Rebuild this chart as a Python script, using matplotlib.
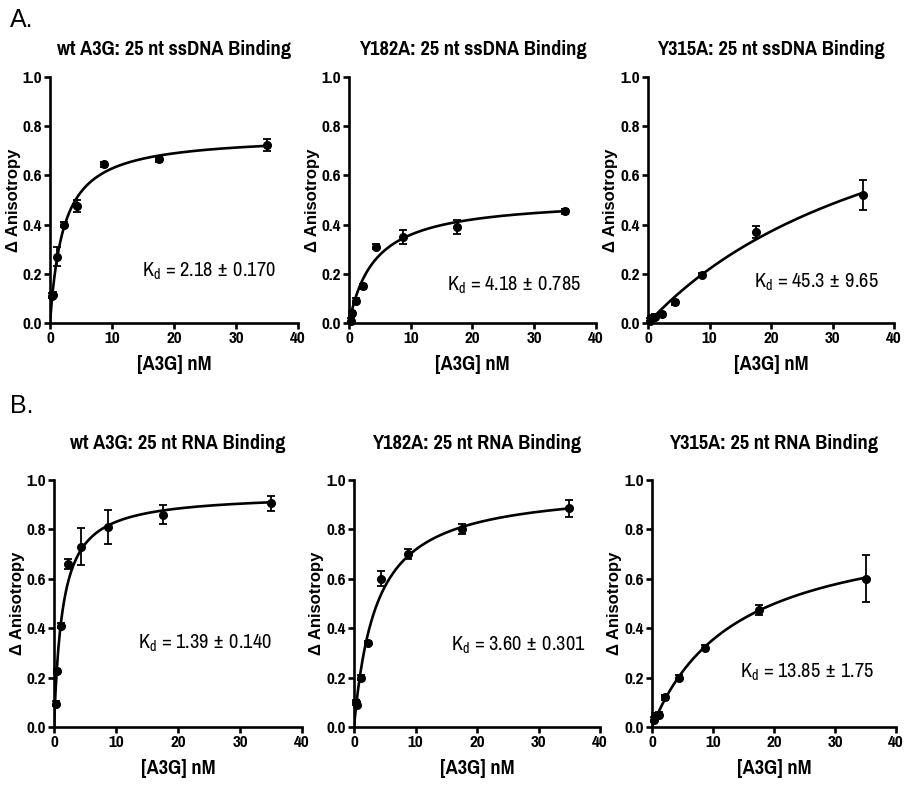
import numpy as np
import matplotlib
matplotlib.use('Agg')
import matplotlib.pyplot as plt

# A3G concentrations (nM), 2-fold dilution series
conc = [0.27, 0.55, 1.1, 2.2, 4.4, 8.75, 17.5, 35.0]

titles = ['wt A3G: 25 nt ssDNA Binding', 'Y182A: 25 nt ssDNA Binding', 'Y315A: 25 nt ssDNA Binding',
          'wt A3G: 25 nt RNA Binding', 'Y182A: 25 nt RNA Binding', 'Y315A: 25 nt RNA Binding']

wt_dna = [0.11, 0.115, 0.27, 0.40, 0.475, 0.645, 0.665, 0.725]
wt_dna_err = [0.01, 0.01, 0.04, 0.01, 0.025, 0.01, 0.01, 0.025]
y182_dna = [0.01, 0.04, 0.09, 0.15, 0.31, 0.35, 0.39, 0.455]
y182_dna_err = [0.01, 0.01, 0.01, 0.01, 0.01, 0.03, 0.03, 0.01]
y315_dna = [0.01, 0.02, 0.025, 0.035, 0.085, 0.195, 0.37, 0.52]
y315_dna_err = [0.01, 0.01, 0.01, 0.01, 0.01, 0.01, 0.025, 0.06]
wt_rna = [0.095, 0.225, 0.41, 0.66, 0.73, 0.81, 0.86, 0.905]
wt_rna_err = [0.01, 0.01, 0.01, 0.02, 0.075, 0.07, 0.04, 0.03]
y182_rna = [0.10, 0.09, 0.20, 0.34, 0.60, 0.70, 0.80, 0.885]
y182_rna_err = [0.01, 0.01, 0.01, 0.01, 0.03, 0.02, 0.02, 0.035]
y315_rna = [0.03, 0.045, 0.05, 0.12, 0.20, 0.32, 0.475, 0.60]
y315_rna_err = [0.01, 0.01, 0.01, 0.01, 0.01, 0.01, 0.02, 0.095]

# one-site binding fits: Kd (nM) and Bmax
kd = [2.18, 4.18, 45.3, 1.39, 3.60, 13.85]
kd_txt = ['2.18', '4.18', '45.3', '1.39', '3.60', '13.85']
kd_err = ['0.170', '0.785', '9.65', '0.140', '0.301', '1.75']
bmax = [0.765, 0.509, 1.216, 0.946, 0.976, 0.844]

values = [wt_dna, y182_dna, y315_dna, wt_rna, y182_rna, y315_rna]
errors = [wt_dna_err, y182_dna_err, y315_dna_err, wt_rna_err, y182_rna_err, y315_rna_err]
kd_pos = [(14.8, 0.21), (15.9, 0.155), (17.2, 0.167), (13.5, 0.34), (15.8, 0.33), (14.4, 0.22)]

# condensed faces, similar to Arial Narrow
narrow = ['Pragati Narrow', 'Archivo Narrow', 'Roboto Condensed', 'IBM Plex Sans Condensed', 'DejaVu Sans']
wide = ['Liberation Sans', 'DejaVu Sans']
plt.rcParams['font.family'] = narrow

W, H = 907, 785
fig = plt.figure(figsize=(W / 100, H / 100), dpi=100)

# axes boxes in pixels: left, top(1.0), right(40), bottom(0.0)
boxes = [(50, 77, 298, 323), (349, 77, 596, 323), (648, 77, 894, 323),
         (54, 480, 302, 727), (354, 480, 600, 727), (652, 480, 896, 727)]

for i, (l, t, r, b) in enumerate(boxes):
    ax = fig.add_axes([l / W, 1 - b / H, (r - l) / W, (b - t) / H])
    xs = np.linspace(0, 35, 300)
    ax.plot(xs, bmax[i] * xs / (kd[i] + xs), color='black', lw=1.9, zorder=2)
    ax.errorbar(conc, values[i], yerr=errors[i], fmt='o', color='black', ms=5.5,
                capsize=3, elinewidth=1.3, capthick=1.3, zorder=3, clip_on=False)
    ax.set_xlim(0, 40)
    ax.set_ylim(0, 1.0)
    ax.set_xticks([0, 10, 20, 30, 40])
    ax.set_yticks([0, 0.2, 0.4, 0.6, 0.8, 1.0])
    ax.set_yticklabels(['0.0', '0.2', '0.4', '0.6', '0.8', '1.0'])
    for s in ['top', 'right']:
        ax.spines[s].set_visible(False)
    for s in ['left', 'bottom']:
        ax.spines[s].set_linewidth(1.9)
    ax.tick_params(direction='out', length=4, width=1.9, labelsize=13.5, pad=2)
    for lab in ax.get_xticklabels() + ax.get_yticklabels():
        lab.set_fontweight('bold')
    ax.set_title(titles[i], fontsize=16, fontweight='bold', pad=16 if i < 3 else 22)
    ax.set_xlabel('[A3G] nM', fontsize=16, fontweight='bold', labelpad=6)
    ax.set_ylabel('\u0394 Anisotropy', fontsize=12, fontweight='bold', family=wide, va='center')
    ax.yaxis.set_label_coords(-37 / (r - l), 0.5)
    kx, ky = kd_pos[i]
    ax.text(kx, ky, r'K$_\mathregular{d}$ = ' + kd_txt[i] + ' \u00b1 ' + kd_err[i], fontsize=16,
            ha='left', va='center')

fig.text(10 / W, 1 - 20 / H, 'A.', fontsize=18, family=wide, va='center')
fig.text(10 / W, 1 - 406 / H, 'B.', fontsize=18, family=wide, va='center')

fig.savefig('out.png', dpi=100)
